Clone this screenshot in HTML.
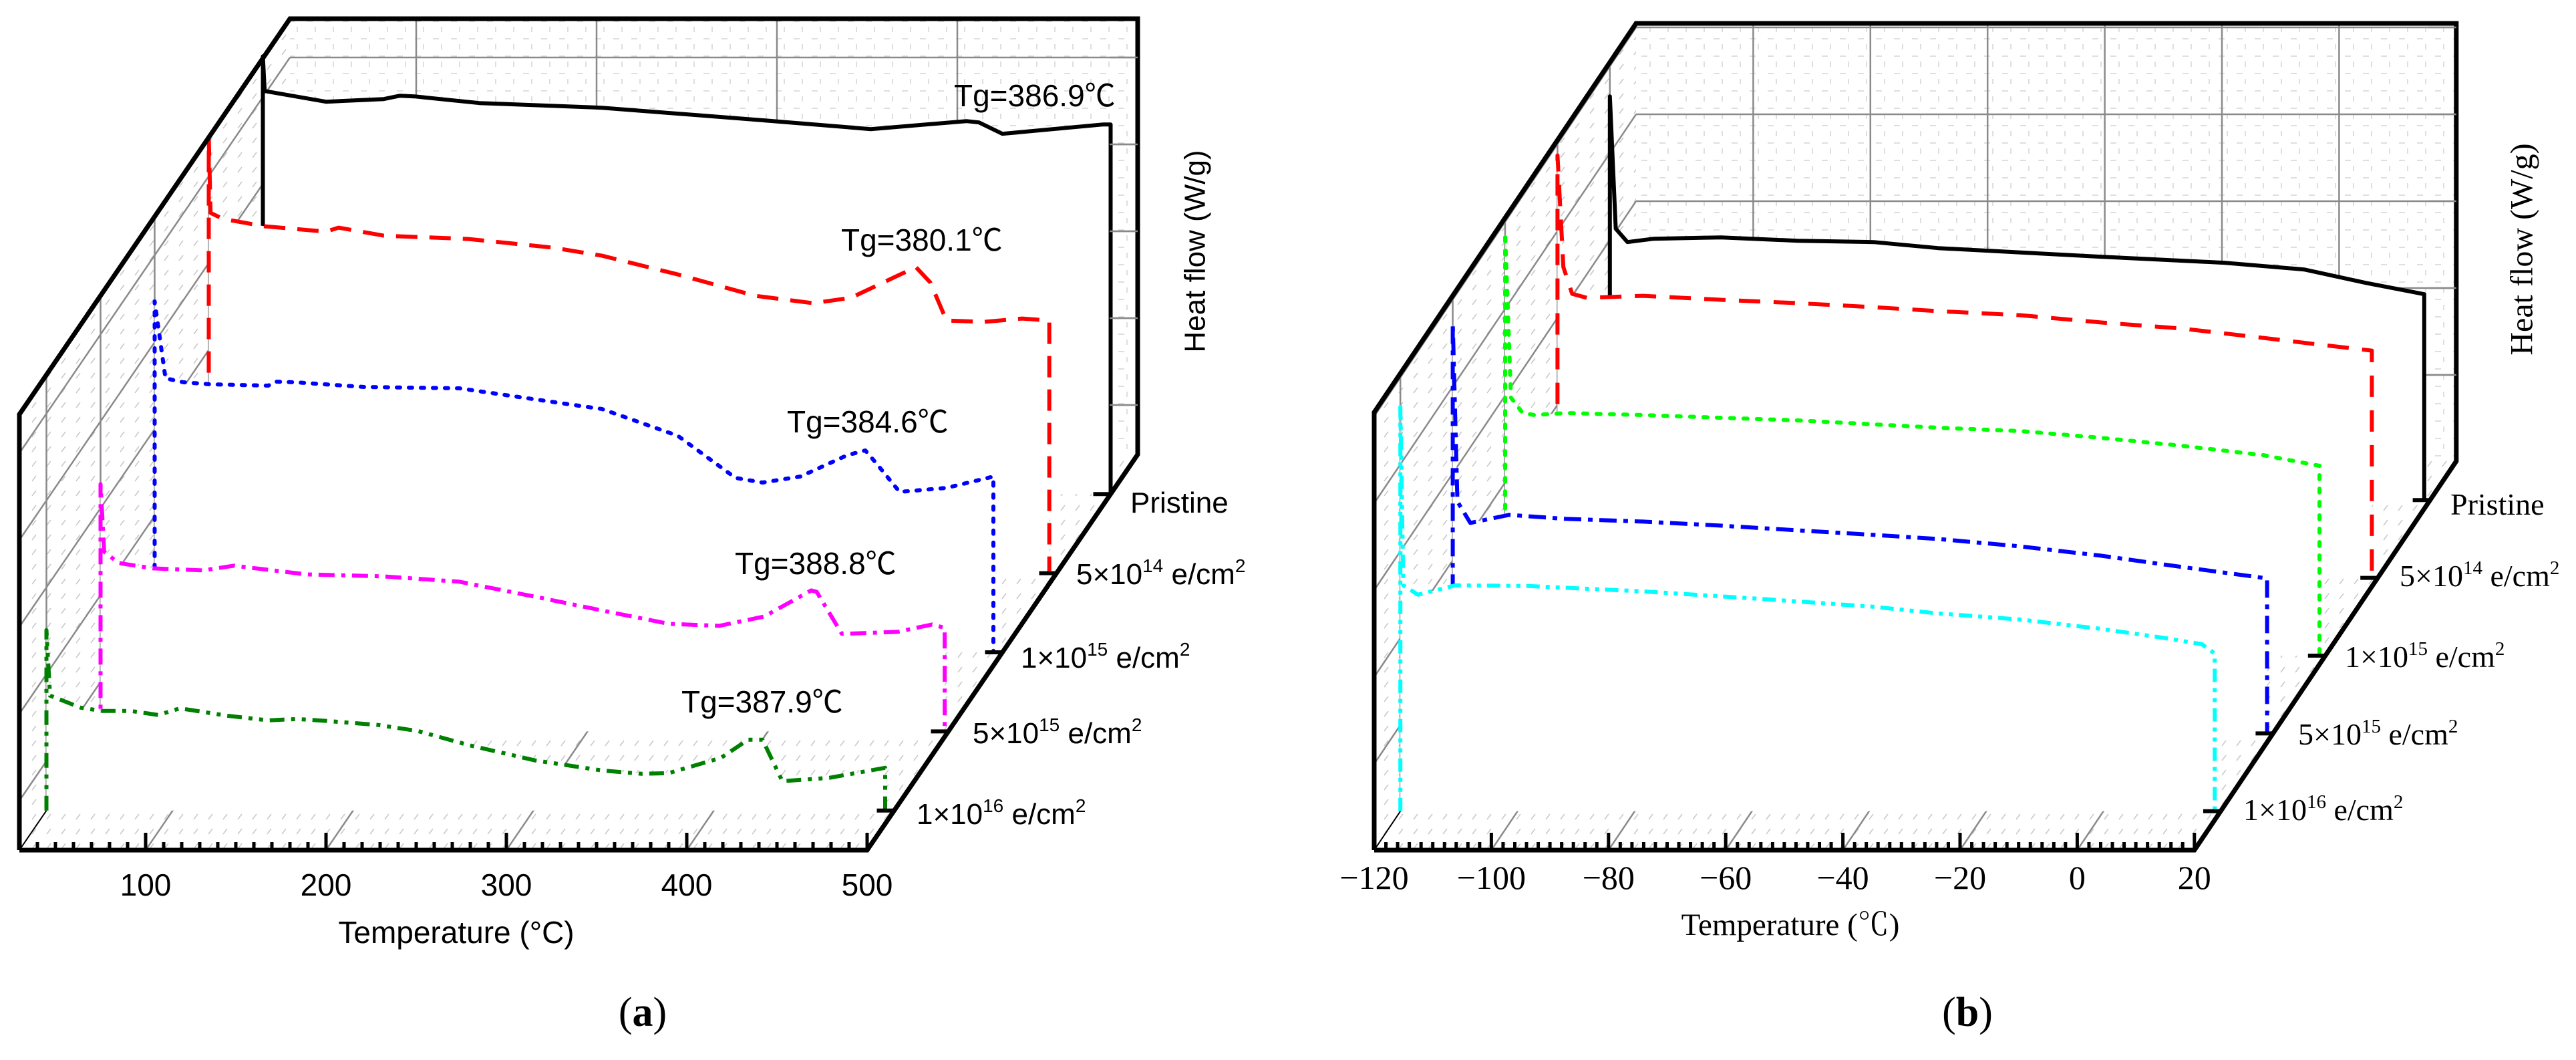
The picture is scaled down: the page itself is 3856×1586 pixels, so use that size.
<!DOCTYPE html>
<html><head><meta charset="utf-8"><style>
html,body{margin:0;padding:0;background:#fff;}
svg{display:block;}
.sa{font-family:"Liberation Sans","Noto Sans CJK SC",sans-serif;fill:#000;}
.se{font-family:"Liberation Serif","Noto Serif CJK SC",serif;fill:#000;}
</style></head><body>
<svg id="fig" xmlns="http://www.w3.org/2000/svg" width="3856" height="1586" viewBox="0 0 3856 1586">
<defs>
<pattern id="hatch" width="22" height="22" patternUnits="userSpaceOnUse">
<line x1="4" y1="16" x2="10" y2="8" stroke="#c8c8c8" stroke-width="1.5"/>
</pattern>
<pattern id="dgrid" width="27" height="26" patternUnits="userSpaceOnUse">
<line x1="0" y1="6" x2="9" y2="6" stroke="#d4d4d4" stroke-width="1.5"/>
<line x1="13" y1="14" x2="13" y2="22" stroke="#d4d4d4" stroke-width="1.5"/>
</pattern>
</defs>
<g id="panelA"></g>
<g id="panelB"></g>

<!-- Panel A texts -->
<g>
<text class="sa" x="1428" y="159" font-size="46">Tg=386.9℃</text>
<text class="sa" x="1259" y="375" font-size="46">Tg=380.1℃</text>
<text class="sa" x="1178" y="647" font-size="46">Tg=384.6℃</text>
<text class="sa" x="1100" y="859" font-size="46">Tg=388.8℃</text>
<text class="sa" x="1020" y="1066" font-size="46">Tg=387.9℃</text>
<text class="sa" x="683" y="1411" font-size="46" text-anchor="middle">Temperature (°C)</text>
<text class="sa" x="1789" y="376" font-size="44" text-anchor="middle" dominant-baseline="central" transform="rotate(-90 1789 376)">Heat flow (W/g)</text>
<text class="sa" x="1692" y="767" font-size="44">Pristine</text>
<text class="sa" x="1611" y="874" font-size="44">5×10<tspan font-size="28" dy="-18">14</tspan><tspan dy="18"> e/cm</tspan><tspan font-size="28" dy="-18">2</tspan></text>
<text class="sa" x="1528" y="999" font-size="44">1×10<tspan font-size="28" dy="-18">15</tspan><tspan dy="18"> e/cm</tspan><tspan font-size="28" dy="-18">2</tspan></text>
<text class="sa" x="1456" y="1112" font-size="44">5×10<tspan font-size="28" dy="-18">15</tspan><tspan dy="18"> e/cm</tspan><tspan font-size="28" dy="-18">2</tspan></text>
<text class="sa" x="1372" y="1233" font-size="44">1×10<tspan font-size="28" dy="-18">16</tspan><tspan dy="18"> e/cm</tspan><tspan font-size="28" dy="-18">2</tspan></text>
<text class="se" x="962" y="1535" font-size="62" text-anchor="middle">(<tspan font-weight="bold">a</tspan>)</text>
</g>
<!-- Panel B texts -->
<g>
<text class="se" x="2680" y="1399" font-size="47" text-anchor="middle">Temperature (℃)</text>
<text class="se" x="3775" y="373" font-size="48" text-anchor="middle" dominant-baseline="central" transform="rotate(-90 3775 373)">Heat flow (W/g)</text>
<text class="se" x="3668" y="770" font-size="46">Pristine</text>
<text class="se" x="3592" y="877" font-size="46">5×10<tspan font-size="29" dy="-18">14</tspan><tspan dy="18"> e/cm</tspan><tspan font-size="29" dy="-18">2</tspan></text>
<text class="se" x="3510" y="998" font-size="46">1×10<tspan font-size="29" dy="-18">15</tspan><tspan dy="18"> e/cm</tspan><tspan font-size="29" dy="-18">2</tspan></text>
<text class="se" x="3440" y="1114" font-size="46">5×10<tspan font-size="29" dy="-18">15</tspan><tspan dy="18"> e/cm</tspan><tspan font-size="29" dy="-18">2</tspan></text>
<text class="se" x="3358" y="1227" font-size="46">1×10<tspan font-size="29" dy="-18">16</tspan><tspan dy="18"> e/cm</tspan><tspan font-size="29" dy="-18">2</tspan></text>
<text class="se" x="2945" y="1535" font-size="62" text-anchor="middle">(<tspan font-weight="bold">b</tspan>)</text>
</g>
</svg>
<script>
// ---------- Panel A data (Temperature °C, heat flow arbitrary units) ----------
const aTicks = [100, 200, 300, 400, 500];
const aBlackT = [31, 65, 97, 106, 114, 150, 218, 313, 367, 420, 427, 440, 496, 500];
const aBlackH = [6.03, 5.87, 5.91, 5.96, 5.95, 5.85, 5.78, 5.58, 5.46, 5.58, 5.56, 5.39, 5.53, 5.53];
const aBlackSpike = 6.55;
const aRedT = [31, 38, 61, 95, 102, 127, 174, 221, 248, 290, 333, 365, 386, 422, 430, 439, 460, 481, 496];
const aRedH = [5.39, 5.30, 5.19, 5.11, 5.17, 5.05, 5.00, 4.87, 4.75, 4.47, 4.15, 4.04, 4.12, 4.58, 4.35, 3.78, 3.76, 3.81, 3.78];
const aRedSpike = 6.53;
const aBlueT = [36, 46, 61, 93, 97, 108, 146, 199, 242, 278, 320, 352, 367, 388, 414, 424, 430, 443, 469, 495];
const aBlueH = [4.10, 4.04, 4.01, 3.99, 4.05, 4.04, 3.97, 3.95, 3.78, 3.64, 3.24, 2.61, 2.54, 2.63, 2.95, 3.02, 2.83, 2.40, 2.46, 2.63];
const aBlueSpike = 5.25;
const aMagT = [32, 40, 59, 87, 104, 144, 187, 229, 272, 308, 345, 373, 398, 424, 427, 441, 472, 491, 498];
const aMagH = [2.69, 2.52, 2.44, 2.41, 2.48, 2.35, 2.32, 2.24, 2.01, 1.81, 1.61, 1.58, 1.72, 2.11, 2.09, 1.46, 1.49, 1.60, 1.55];
const aMagSpike = 3.70;
const aGreenT = [32, 49, 61, 77, 92, 104, 130, 153, 169, 186, 214, 236, 264, 301, 338, 360, 375, 404, 419, 427, 438, 464, 495];
const aGreenH = [1.72, 1.54, 1.49, 1.49, 1.43, 1.53, 1.42, 1.35, 1.37, 1.34, 1.28, 1.19, 0.98, 0.75, 0.60, 0.55, 0.56, 0.79, 1.06, 1.06, 0.44, 0.49, 0.64];
const aGreenSpike = 2.70;

// ---------- Panel B data ----------
const bTicks = [-120, -100, -80, -60, -40, -20, 0, 20];
const bBlackT = [-119, -117, -112.5, -101, -88, -75, -64, -36, -15, -1.5, 9, 19];
const bBlackH = [4.06, 3.86, 3.91, 3.93, 3.88, 3.86, 3.77, 3.64, 3.55, 3.45, 3.25, 3.08];
const bBlackSpike = 6.04;
const bRedT = [-119, -117.5, -115, -105.4, -92, -79, -66, -55, -41, -27, -13.4, 0.5, 11, 19];
const bRedH = [4.65, 4.25, 4.19, 4.22, 4.16, 4.11, 4.05, 3.99, 3.93, 3.82, 3.73, 3.59, 3.48, 3.40];
const bRedSpike = 6.32;
const bGreenT = [-119, -117, -115, -109.6, -96.5, -83.4, -70, -57, -46, -32, -18.4, -4.5, 9.4, 19];
const bGreenH = [3.86, 3.63, 3.60, 3.63, 3.60, 3.56, 3.52, 3.46, 3.41, 3.36, 3.26, 3.14, 3.00, 2.84];
const bGreenSpike = 6.33;
const bBlueT = [-119.2, -117, -110.4, -100.6, -87.5, -74.4, -61.3, -48, -37.2, -23.3, -9.4, 4.5, 19];
const bBlueH = [3.47, 3.15, 3.27, 3.21, 3.17, 3.11, 3.04, 2.97, 2.91, 2.80, 2.66, 2.49, 2.32];
const bBlueSpike = 6.14;
const bCyanT = [-119.5, -117, -110.6, -98.2, -78.6, -59, -39.3, -28.3, -14.4, -0.5, 10.6, 16.8, 19];
const bCyanH = [3.38, 3.24, 3.38, 3.37, 3.29, 3.18, 3.06, 2.96, 2.87, 2.73, 2.59, 2.50, 2.36];
const bCyanSpike = 6.05;

const NS = 'http://www.w3.org/2000/svg';
function mk(parent, tag, attrs) {
  const e = document.createElementNS(NS, tag);
  for (const k in attrs) e.setAttribute(k, attrs[k]);
  parent.appendChild(e);
  return e;
}

function drawPanel(g, P, series, ticks, minorStep, tickFmt, tickClass, tickSize, gridOffset) {
  const Dx = P.sx * 5, Dy = P.sy * 5;
  const X = T => P.x0 + (T - P.Tmin) * P.kx;
  const x1 = X(P.Tmax);
  const yb = P.yb, H = P.H;
  // back wall
  let e = mk(g, 'rect', {x: P.x0 + Dx, y: yb + Dy - H, width: x1 - P.x0, height: H, fill: 'url(#dgrid)'});
  
  
  // left wall
  e = mk(g, 'polygon', {points: `${P.x0},${yb} ${P.x0},${yb-H} ${P.x0+Dx},${yb+Dy-H} ${P.x0+Dx},${yb+Dy}`, fill: 'url(#hatch)'});
  
  
  // floor
  e = mk(g, 'polygon', {points: `${P.x0},${yb} ${x1},${yb} ${x1+Dx},${yb+Dy} ${P.x0+Dx},${yb+Dy}`, fill: 'url(#hatch)'});
  
  
  const grid = mk(g, 'g', {stroke: '#8a8a8a', 'stroke-width': 2.5, fill: 'none'});
  
  
  // back wall grid
  ticks.forEach(t => { if (t > P.Tmin && t < P.Tmax) mk(grid, 'line', {x1: X(t)+Dx, y1: yb+Dy-H, x2: X(t)+Dx, y2: yb+Dy}); });
  for (let h = gridOffset; h < H - 5; h += 130) {
    mk(grid, 'line', {x1: P.x0+Dx, y1: yb+Dy-h, x2: x1+Dx, y2: yb+Dy-h});
    mk(grid, 'line', {x1: P.x0, y1: yb-h, x2: P.x0+Dx, y2: yb+Dy-h});
  }
  // floor diagonals
  ticks.forEach(t => { if (t > P.Tmin && t < P.Tmax) mk(grid, 'line', {x1: X(t), y1: yb, x2: X(t)+Dx, y2: yb+Dy}); });
  // left wall verticals at planes
  for (let i = 0; i < 5; i++) {
    const dx = P.sx*(i+0.5), dy = P.sy*(i+0.5);
    mk(grid, 'line', {x1: P.x0+dx, y1: yb+dy, x2: P.x0+dx, y2: yb+dy-H});
  }
  // series back to front
  for (let i = series.length - 1; i >= 0; i--) {
    const s = series[i];
    const dx = P.sx*(i+0.5), dy = P.sy*(i+0.5);
    const px = T => X(T) + dx;
    const py = h => yb + dy - h * P.ky;
    const xl = px(P.Tmin), base = py(0);
    let pts = [[xl, base], [xl, py(s.spike)]];
    s.T.forEach((t, k) => pts.push([px(t), py(s.H[k])]));
    const last = pts[pts.length-1];
    pts.push([last[0], base]);
    const ptsStr = pts.map(p => p[0].toFixed(1)+','+p[1].toFixed(1)).join(' ');
    const fill = mk(g, 'polygon', {points: ptsStr, fill: '#fff'});
    
    
    const line = mk(g, 'polyline', {points: ptsStr, fill: 'none', stroke: s.color, 'stroke-width': s.w || 6, 'stroke-dasharray': s.dash, 'stroke-linecap': s.cap || 'butt', 'stroke-linejoin': 'round'});
    
    
  }
  // frame
  const fr = mk(g, 'g', {stroke: '#000', 'stroke-width': 7, fill: 'none', 'stroke-linejoin': 'miter'});
  
  
  mk(fr, 'polyline', {points: `${P.x0},${yb} ${P.x0},${yb-H} ${P.x0+Dx},${yb+Dy-H} ${x1+Dx},${yb+Dy-H} ${x1+Dx},${yb+Dy} ${x1},${yb} ${P.x0},${yb}`});
  mk(g, 'line', {x1: P.x0, y1: yb, x2: P.x0+P.sx*0.5, y2: yb+P.sy*0.5, stroke: '#000', 'stroke-width': 2});
  // x ticks
  const tk = mk(g, 'g', {stroke: '#000', 'stroke-width': 5});
  
  
  for (let t = P.Tmin; t <= P.Tmax + 0.01; t += minorStep) {
    const major = ticks.some(m => Math.abs(m - t) < 0.01);
    mk(tk, 'line', {x1: X(t), y1: yb, x2: X(t), y2: yb - (major ? 26 : 12)});
  }
  ticks.forEach(t => {
    const tx = mk(g, 'text', {x: X(t), y: yb + P.labelDy, 'font-size': tickSize, 'text-anchor': 'middle', class: tickClass});
    tx.textContent = tickFmt(t);
    
    
  });
  // depth ticks
  for (let i = 0; i < 5; i++) {
    const dx = P.sx*(i+0.5), dy = P.sy*(i+0.5);
    const d = mk(g, 'line', {x1: x1+dx-26, y1: yb+dy, x2: x1+dx, y2: yb+dy, stroke: '#000', 'stroke-width': 6});
    
    
  }
  // right-wall short lines
  for (let h = gridOffset; h < H - 5; h += 130) {
    mk(g, 'line', {x1: x1+Dx-42, y1: yb+Dy-h, x2: x1+Dx, y2: yb+Dy-h, stroke: '#8a8a8a', 'stroke-width': 2.5});
  }
}

const PA = {x0: 29, Tmin: 30, Tmax: 500, kx: 2.7, yb: 1272, H: 652, sx: 81, sy: -118.4, ky: 100, labelDy: 68};
const seriesA = [
  {name: 'curve-1e16-a', T: aGreenT, H: aGreenH, spike: aGreenSpike, color: '#008000', dash: '22 10 6 10 6 10'},
  {name: 'curve-5e15-a', T: aMagT, H: aMagH, spike: aMagSpike, color: '#ff00ff', dash: '24 10 6 10'},
  {name: 'curve-1e15-a', T: aBlueT, H: aBlueH, spike: aBlueSpike, color: '#0000ff', dash: '5 13', cap: 'round'},
  {name: 'curve-5e14-a', T: aRedT, H: aRedH, spike: aRedSpike, color: '#ff0000', dash: '32 18'},
  {name: 'curve-pristine-a', T: aBlackT, H: aBlackH, spike: aBlackSpike, color: '#000', dash: 'none'}
];
drawPanel(document.getElementById('panelA'), PA, seriesA, aTicks, 10, t => String(t), 'sa', 46, 74);

const PB = {x0: 2057, Tmin: -120, Tmax: 20, kx: 8.77, yb: 1272, H: 655, sx: 78.4, sy: -116.4, ky: 100, labelDy: 58};
const seriesB = [
  {name: 'curve-1e16-b', T: bCyanT, H: bCyanH, spike: bCyanSpike, color: '#00ffff', dash: '20 9 6 9 6 9'},
  {name: 'curve-5e15-b', T: bBlueT, H: bBlueH, spike: bBlueSpike, color: '#0000ff', dash: '26 10 7 10'},
  {name: 'curve-1e15-b', T: bGreenT, H: bGreenH, spike: bGreenSpike, color: '#00ff00', dash: '6 14', cap: 'round'},
  {name: 'curve-5e14-b', T: bRedT, H: bRedH, spike: bRedSpike, color: '#ff0000', dash: '32 20'},
  {name: 'curve-pristine-b', T: bBlackT, H: bBlackH, spike: bBlackSpike, color: '#000', dash: 'none'}
];
drawPanel(document.getElementById('panelB'), PB, seriesB, bTicks, 2, t => (t < 0 ? '\u2212' + (-t) : String(t)), 'se', 50, 129);
</script>
</body></html>
